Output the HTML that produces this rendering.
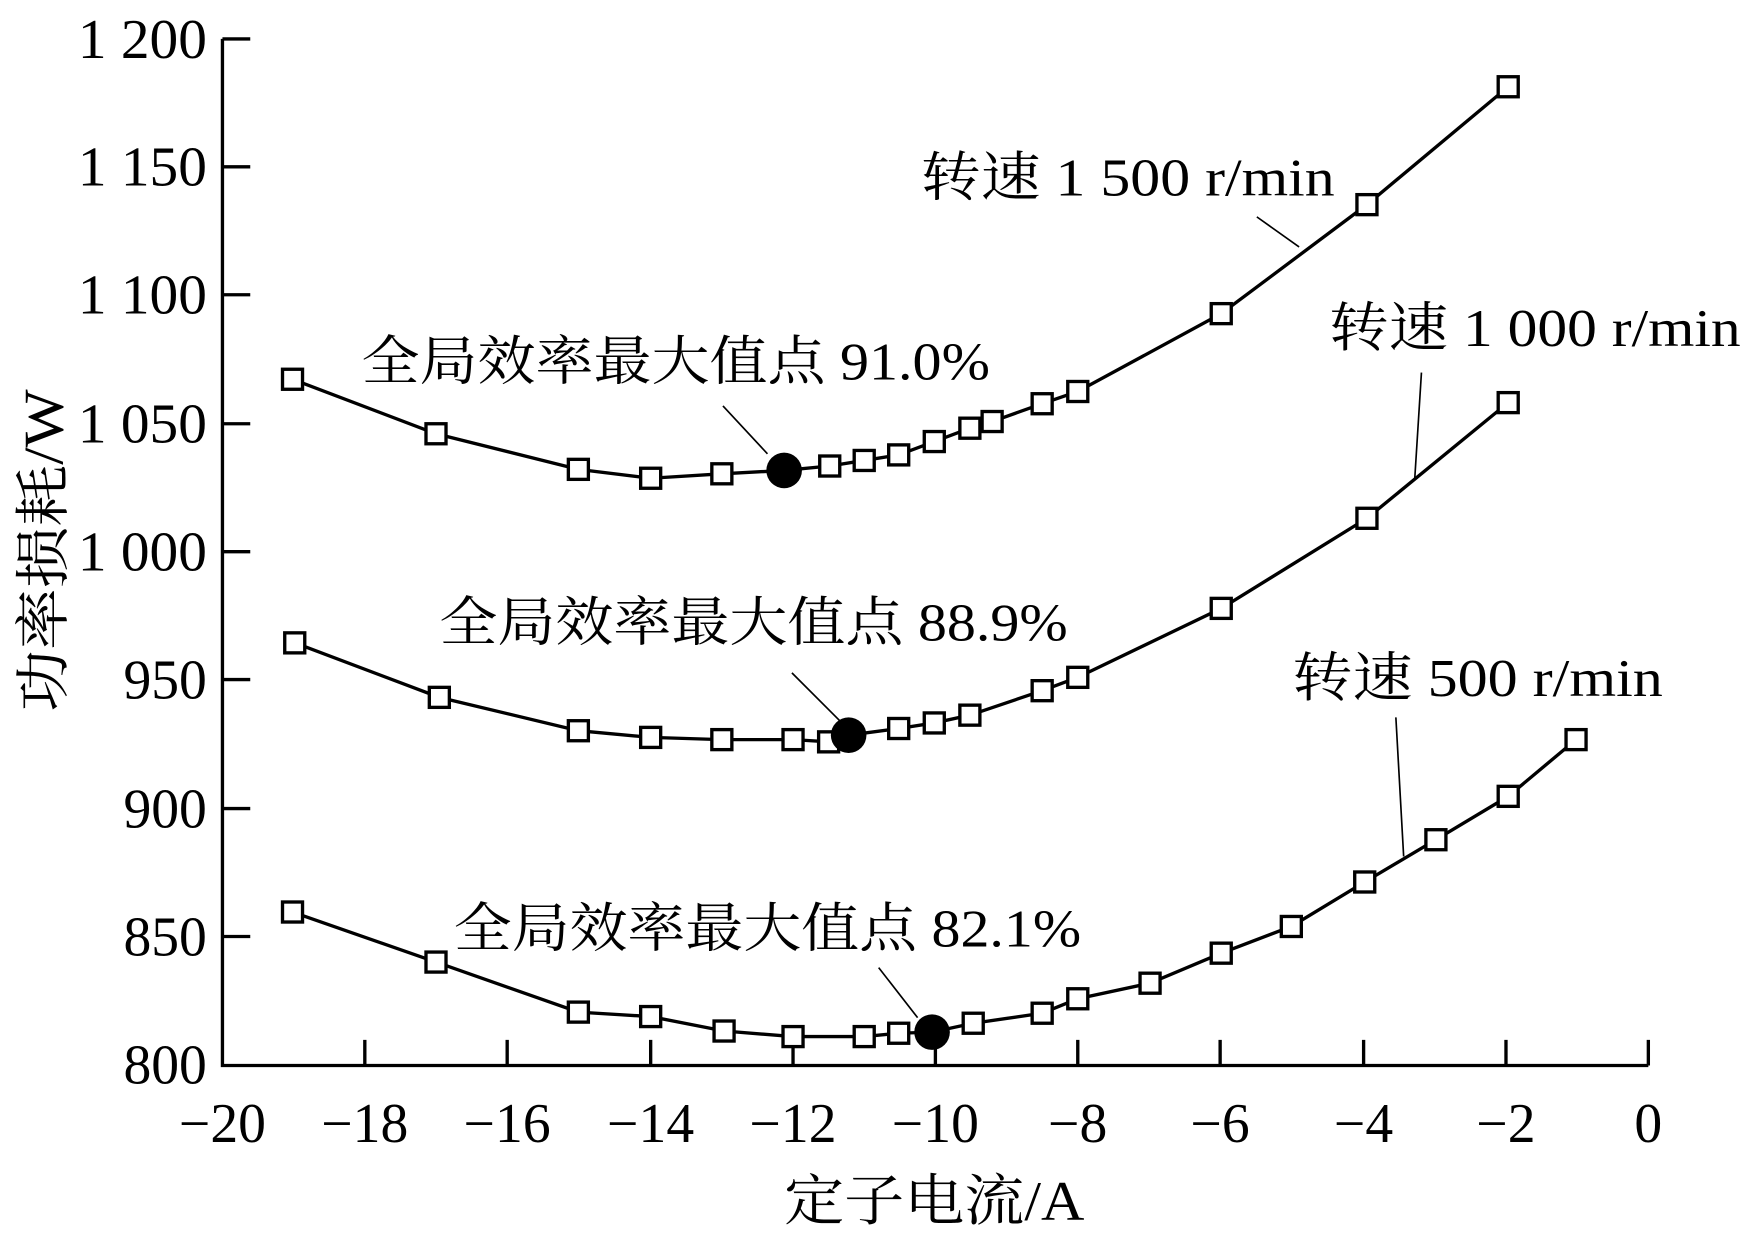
<!DOCTYPE html>
<html><head><meta charset="utf-8"><style>html,body{margin:0;padding:0;background:#fff}svg{display:block}text{font-family:"Liberation Serif","Noto Serif CJK SC",serif}</style></head>
<body>
<svg width="1744" height="1236" viewBox="0 0 1568 1111.3" preserveAspectRatio="none" xmlns="http://www.w3.org/2000/svg" fill="#000">
<g stroke="#000" stroke-width="3" fill="none">
<path d="M200 35 V958 H1482"/>
<path d="M200 35h25M200 150h25M200 265h25M200 381h25M200 496h25M200 611h25M200 727h25M200 842h25"/>
<path d="M328 958v-23M456 958v-23M585 958v-23M713 958v-23M841 958v-23M969 958v-23M1097 958v-23M1226 958v-23M1354 958v-23M1482 958v-23"/>
</g>
<g font-size="50" text-anchor="end">
<text x="186" y="52" textLength="116" lengthAdjust="spacingAndGlyphs">1 200</text><text x="186" y="167" textLength="116" lengthAdjust="spacingAndGlyphs">1 150</text><text x="186" y="282" textLength="116" lengthAdjust="spacingAndGlyphs">1 100</text><text x="186" y="398" textLength="116" lengthAdjust="spacingAndGlyphs">1 050</text><text x="186" y="513" textLength="116" lengthAdjust="spacingAndGlyphs">1 000</text><text x="186" y="628">950</text><text x="186" y="744">900</text><text x="186" y="859">850</text><text x="186" y="974">800</text>
</g>
<g font-size="50" text-anchor="middle">
<text x="200" y="1027">−20</text><text x="328" y="1027">−18</text><text x="456" y="1027">−16</text><text x="585" y="1027">−14</text><text x="713" y="1027">−12</text><text x="841" y="1027">−10</text><text x="969" y="1027">−8</text><text x="1097" y="1027">−6</text><text x="1226" y="1027">−4</text><text x="1354" y="1027">−2</text><text x="1482" y="1027">0</text>
<text x="840" y="1097" font-size="50" textLength="270" lengthAdjust="spacingAndGlyphs">定子电流/A</text>
<text transform="translate(56,495) rotate(-90)" font-size="50" textLength="290" lengthAdjust="spacingAndGlyphs">功率损耗/W</text>
</g>
<g stroke="#000" stroke-width="3" fill="none">
<polyline points="263,341 392,390 520,422 585,430 649,426 705,423 746,419 777,414 808,409 840,397 872,385 892,379 937,363 969,352 1098,282 1229,184 1356,78"/>
<polyline points="265,578 395,627 520,657 585,663 649,665 713,665 745,667 763,661 808,655 840,650 872,643 937,621 969,609 1098,547 1229,466 1356,362"/>
<polyline points="263,820 392,865 520,910 585,914 651,927 713,932 777,932 808,929 838,928 875,920 937,911 969,898 1034,884 1098,857 1161,833 1227,793 1291,755 1356,716 1417,665"/>
<path d="M1130 195L1168 222M1278 335L1272 430M1255 645L1262 770M650 365L690 408M712 605L757 650M790 870L825 915" stroke-width="1.5"/>
</g>
<g fill="#fff" stroke="#000" stroke-width="3">
<rect x="254" y="332" width="18" height="18"/><rect x="383" y="381" width="18" height="18"/><rect x="511" y="413" width="18" height="18"/><rect x="576" y="421" width="18" height="18"/><rect x="640" y="417" width="18" height="18"/><rect x="737" y="410" width="18" height="18"/><rect x="768" y="405" width="18" height="18"/><rect x="799" y="400" width="18" height="18"/><rect x="831" y="388" width="18" height="18"/><rect x="863" y="376" width="18" height="18"/><rect x="883" y="370" width="18" height="18"/><rect x="928" y="354" width="18" height="18"/><rect x="960" y="343" width="18" height="18"/><rect x="1089" y="273" width="18" height="18"/><rect x="1220" y="175" width="18" height="18"/><rect x="1347" y="69" width="18" height="18"/>
<rect x="256" y="569" width="18" height="18"/><rect x="386" y="618" width="18" height="18"/><rect x="511" y="648" width="18" height="18"/><rect x="576" y="654" width="18" height="18"/><rect x="640" y="656" width="18" height="18"/><rect x="704" y="656" width="18" height="18"/><rect x="736" y="658" width="18" height="18"/><rect x="799" y="646" width="18" height="18"/><rect x="831" y="641" width="18" height="18"/><rect x="863" y="634" width="18" height="18"/><rect x="928" y="612" width="18" height="18"/><rect x="960" y="600" width="18" height="18"/><rect x="1089" y="538" width="18" height="18"/><rect x="1220" y="457" width="18" height="18"/><rect x="1347" y="353" width="18" height="18"/>
<rect x="254" y="811" width="18" height="18"/><rect x="383" y="856" width="18" height="18"/><rect x="511" y="901" width="18" height="18"/><rect x="576" y="905" width="18" height="18"/><rect x="642" y="918" width="18" height="18"/><rect x="704" y="923" width="18" height="18"/><rect x="768" y="923" width="18" height="18"/><rect x="799" y="920" width="18" height="18"/><rect x="866" y="911" width="18" height="18"/><rect x="928" y="902" width="18" height="18"/><rect x="960" y="889" width="18" height="18"/><rect x="1025" y="875" width="18" height="18"/><rect x="1089" y="848" width="18" height="18"/><rect x="1152" y="824" width="18" height="18"/><rect x="1218" y="784" width="18" height="18"/><rect x="1282" y="746" width="18" height="18"/><rect x="1347" y="707" width="18" height="18"/><rect x="1408" y="656" width="18" height="18"/>
</g>
<circle cx="705" cy="423" r="16"/><circle cx="763" cy="661" r="16"/><circle cx="838" cy="928" r="16"/>
<g font-size="48">
<text x="828" y="176" textLength="372" lengthAdjust="spacingAndGlyphs">转速 1 500 r/min</text>
<text x="1195" y="311" textLength="370" lengthAdjust="spacingAndGlyphs">转速 1 000 r/min</text>
<text x="1162" y="626" textLength="333" lengthAdjust="spacingAndGlyphs">转速 500 r/min</text>
<text x="325" y="341" textLength="565" lengthAdjust="spacingAndGlyphs">全局效率最大值点 91.0%</text>
<text x="395" y="576" textLength="565" lengthAdjust="spacingAndGlyphs">全局效率最大值点 88.9%</text>
<text x="408" y="851" textLength="564" lengthAdjust="spacingAndGlyphs">全局效率最大值点 82.1%</text>
</g>
</svg>
</body></html>
